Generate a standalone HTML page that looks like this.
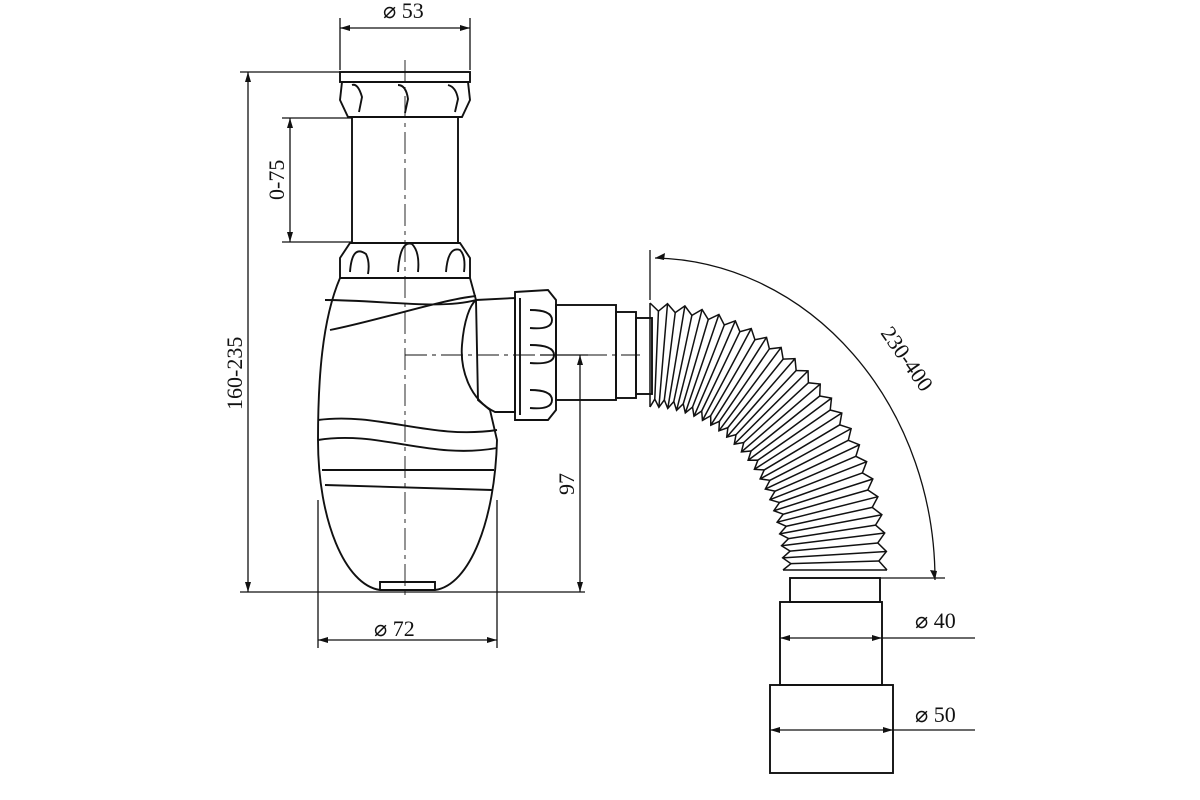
<!DOCTYPE html>
<html><head><meta charset="utf-8"><style>
html,body{margin:0;padding:0;background:#fff;}
svg{display:block}
text{font-family:"Liberation Serif",serif;font-size:22px;fill:#111}
</style></head><body>
<svg id="s" width="1200" height="800" viewBox="0 0 1200 800" xmlns="http://www.w3.org/2000/svg">
<g fill="none" stroke="#111" stroke-width="1.3">
<line x1="340" y1="18" x2="340" y2="70"/><line x1="470" y1="18" x2="470" y2="70"/>
<line x1="340" y1="28" x2="470" y2="28"/>
<line x1="240" y1="72" x2="345" y2="72"/><line x1="240" y1="592" x2="585" y2="592"/>
<line x1="248" y1="72" x2="248" y2="592"/>
<line x1="282" y1="118" x2="352" y2="118"/><line x1="282" y1="242" x2="352" y2="242"/>
<line x1="290" y1="118" x2="290" y2="242"/>
<line x1="318" y1="500" x2="318" y2="648"/><line x1="497" y1="500" x2="497" y2="648"/>
<line x1="318" y1="640" x2="497" y2="640"/>
<line x1="540" y1="355" x2="588" y2="355"/><line x1="580" y1="355" x2="580" y2="592"/>
<line x1="780" y1="638" x2="975" y2="638"/><line x1="770" y1="730" x2="975" y2="730"/>
<line x1="880" y1="578" x2="945" y2="578"/>
<line x1="650" y1="250" x2="650" y2="300"/>
<path d="M655 258 A285 322 0 0 1 935 580"/>
<line x1="405" y1="60" x2="405" y2="600" stroke-dasharray="22 5 4 5" stroke-width="0.9"/>
<line x1="405" y1="355" x2="640" y2="355" stroke-dasharray="22 5 4 5" stroke-width="0.9"/>
</g>
<g fill="none" stroke="#111" stroke-width="1.9">
<rect x="340" y="72" width="130" height="10"/>
<path d="M342 82 L468 82 L470 100 L462 117 L348 117 L340 100 Z"/>
<path d="M352 85 q6 -2 10 12 l-3 15 M398 85 q8 0 10 14 l-3 14 M448 85 q8 2 10 14 l-3 13"/>
<rect x="352" y="117" width="106" height="126"/>
<path d="M350 243 L460 243 L470 258 L470 278 L340 278 L340 258 Z"/>
<path d="M350 272 q2 -28 16 -18 q4 8 2 20 M398 272 q2 -32 14 -28 q8 8 6 28 M446 272 q2 -26 14 -22 q6 6 4 22"/>
<path d="M340 278 C322 320 318 380 318 440 C318 520 345 585 380 590 L435 590 C470 585 495 520 497 440 L490 410 L478 400 L476 300 L470 278"/>
<path d="M325 300 C380 300 440 310 476 300 M330 330 C380 320 440 300 476 296"/>
<path d="M318 420 C380 412 430 440 497 430 M318 440 C380 430 430 460 497 448"/>
<path d="M322 470 L494 470 M325 485 L492 490 M380 590 L380 582 L435 582 L435 590"/>
<path d="M476 300 L515 298 L515 412 L495 412 C470 400 460 370 462 345 C464 320 470 305 476 300"/>
<path d="M515 292 L548 290 L556 300 L556 410 L548 420 L515 420 Z"/>
<path d="M520 298 L520 415 M530 310 q22 0 22 10 q0 10 -22 8 M530 345 q24 0 24 10 q0 10 -24 8 M530 390 q22 0 22 10 q0 10 -22 8"/>
<rect x="556" y="305" width="60" height="95"/>
<rect x="616" y="312" width="20" height="86"/>
<rect x="636" y="318" width="16" height="76"/>
<rect x="790" y="578" width="90" height="24"/>
<rect x="780" y="602" width="102" height="83"/>
<rect x="770" y="685" width="123" height="88"/>
</g>
<g id="hose" fill="none" stroke="#111" stroke-width="1.5"></g>
<g fill="#111">
<path d="M340 28 l10 -3 v6 z M470 28 l-10 -3 v6 z M248 72 l-3 10 h6 z M248 592 l-3 -10 h6 z M290 118 l-3 10 h6 z M290 242 l-3 -10 h6 z M318 640 l10 -3 v6 z M497 640 l-10 -3 v6 z M580 355 l-3 10 h6 z M580 592 l-3 -10 h6 z M780 638 l10 -3 v6 z M882 638 l-10 -3 v6 z M770 730 l10 -3 v6 z M893 730 l-10 -3 v6 z M655 258 l10 -5 l-1 7 z M935 580 l-5 -10 l7 1 z"/>
</g>
<text x="383" y="18">⌀ 53</text>
<text x="374" y="636">⌀ 72</text>
<text x="915" y="628">⌀ 40</text>
<text x="915" y="722">⌀ 50</text>
<text transform="translate(242 410) rotate(-90)">160-235</text>
<text transform="translate(284 200) rotate(-90)">0-75</text>
<text transform="translate(574 495) rotate(-90)">97</text>
<text transform="translate(880 333) rotate(55)">230-400</text>
</svg>
<script>
var g=document.getElementById('hose'),ns='http://www.w3.org/2000/svg';
function P(t,r){var x=650+185*Math.sin(t),y=570-215*Math.cos(t);var dx=185*Math.cos(t),dy=215*Math.sin(t),l=Math.hypot(dx,dy);return [x+r*dy/l,y-r*dx/l];}
var N=44,o=[],i=[];
for(var k=0;k<=N;k++){var t=k/N*Math.PI/2;var r=(k%2?44:52);o.push(P(t,r));i.push(P(t,-r));
var a=P(t,r),b=P(t,-r);var ln=document.createElementNS(ns,'line');ln.setAttribute('x1',a[0]);ln.setAttribute('y1',a[1]);ln.setAttribute('x2',b[0]);ln.setAttribute('y2',b[1]);g.appendChild(ln);}
function pl(pts){var p=document.createElementNS(ns,'polyline');p.setAttribute('points',pts.map(function(q){return q.join(',')}).join(' '));g.appendChild(p);}
pl(o);pl(i);
</script>
</body></html>
